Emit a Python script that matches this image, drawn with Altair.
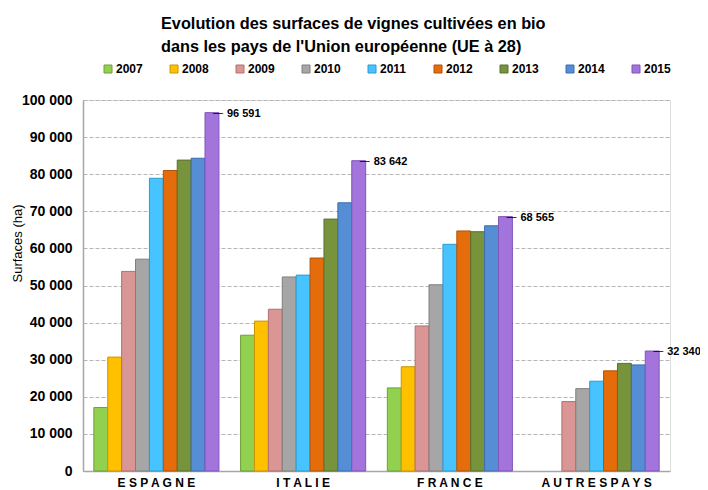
import altair as alt
import pandas as pd

countries = ["ESPAGNE", "ITALIE", "FRANCE", "AUTRES PAYS"]
years = ["2007", "2008", "2009", "2010", "2011", "2012", "2013", "2014", "2015"]

espagne = [17100, 30700, 53800, 57100, 78900, 81000, 83800, 84300, 96591]
italie = [36600, 40400, 43600, 52300, 52800, 57400, 67900, 72300, 83642]
france = [22400, 28100, 39100, 50200, 61100, 64700, 64500, 66100, 68565]
autres = [None, None, 18700, 22200, 24200, 27000, 29000, 28600, 32340]

fills = ["#92D050", "#FFC000", "#D99694", "#A6A6A6", "#47C3FF",
         "#E46C0A", "#77933C", "#558ED5", "#A374DB"]
strokes = ["#6F9E3A", "#C99700", "#B0706E", "#7F7F7F", "#2E9AD0",
           "#B35308", "#5A7030", "#3C6DAE", "#7F55B8"]

rows = []
for c, vals in zip(countries, [espagne, italie, france, autres]):
    for y, v in zip(years, vals):
        if v is not None:
            rows.append({"pays": c, "annee": y, "valeur": v})
df = pd.DataFrame(rows)

x_enc = alt.X("pays:N", sort=countries, scale=alt.Scale(paddingInner=0, paddingOuter=0),
              axis=alt.Axis(title=None, labelExpr="join(split(datum.label, ''), ' ')",
                            labelFont="Liberation Sans", labelFontWeight="bold",
                            labelFontSize=12, labelColor="#000000", labelPadding=6,
                            labelAngle=0, ticks=False, domainColor="#A6A6A6",
                            domainWidth=1.5, grid=False, labelLimit=300))
xoff = alt.XOffset("annee:N", sort=years,
                   scale=alt.Scale(domain=years, paddingInner=0, paddingOuter=0.78))
y_enc = alt.Y("valeur:Q", scale=alt.Scale(domain=[0, 100000], nice=False),
              axis=alt.Axis(title="Surfaces (ha)", values=list(range(0, 100001, 10000)),
                            labelExpr="replace(format(datum.value, ','), ',', ' ')",
                            labelFont="Liberation Sans", labelFontWeight="bold",
                            labelFontSize=14, labelColor="#000000", labelPadding=11,
                            labelOverlap=False,
                            ticks=False, domainColor="#A6A6A6", domainWidth=1.5,
                            grid=True, gridDash=[4, 2], gridColor="#B5B5B5",
                            gridWidth=1.2,
                            titleFont="Liberation Sans", titleFontSize=13,
                            titleFontWeight="normal", titleColor="#000000",
                            titleAngle=-90, titleX=-66, titleY=143,
                            titleAlign="center", titleBaseline="middle"))

legend = alt.Legend(title=None, orient="none", direction="horizontal", columns=9,
                    legendX=19, legendY=-37, symbolType="square", symbolSize=64,
                    symbolStrokeWidth=1, labelFont="Liberation Sans",
                    labelFontWeight="bold", labelFontSize=12, labelColor="#000000",
                    columnPadding=25, labelOffset=2)

bars = alt.Chart(df).mark_bar(strokeWidth=1, opacity=1).encode(
    x=x_enc,
    xOffset=xoff,
    y=y_enc,
    fill=alt.Fill("annee:N", sort=years, scale=alt.Scale(domain=years, range=fills),
                  legend=legend),
    stroke=alt.Stroke("annee:N", sort=years, scale=alt.Scale(domain=years, range=strokes),
                      legend=legend),
)

last = df[df["annee"] == "2015"]

dash = alt.Chart(last).mark_text(text="\u2014", align="left", baseline="middle",
                                 dx=1, fontSize=10, color="#000000",
                                 font="Liberation Sans").encode(
    x=x_enc,
    xOffset=xoff,
    y=y_enc,
)

labels = alt.Chart(last).transform_calculate(
    txt="replace(format(datum.valeur, ','), ',', ' ')"
).mark_text(align="left", baseline="middle", dx=15, dy=1, fontSize=11,
            fontWeight="bold", font="Liberation Sans", color="#000000").encode(
    x=x_enc,
    xOffset=xoff,
    y=y_enc,
    text="txt:N",
)

chart = alt.layer(bars, dash, labels).properties(
    width=587,
    height=371,
    autosize=alt.AutoSizeParams(type="none"),
    padding={"left": 75, "top": 92, "right": 30, "bottom": 19},
    title=alt.TitleParams(
        text=["Evolution des surfaces de vignes cultivées en bio",
              "dans les pays de l'Union européenne (UE à 28)"],
        anchor="start", frame="group", dx=78, offset=8,
        font="Liberation Sans", fontSize=16.3, fontWeight="bold",
        color="#000000", lineHeight=23,
    ),
).configure_view(stroke=None).configure(background="#FFFFFF")

chart.save("out.html", embed_options={"renderer": "svg", "actions": False})
